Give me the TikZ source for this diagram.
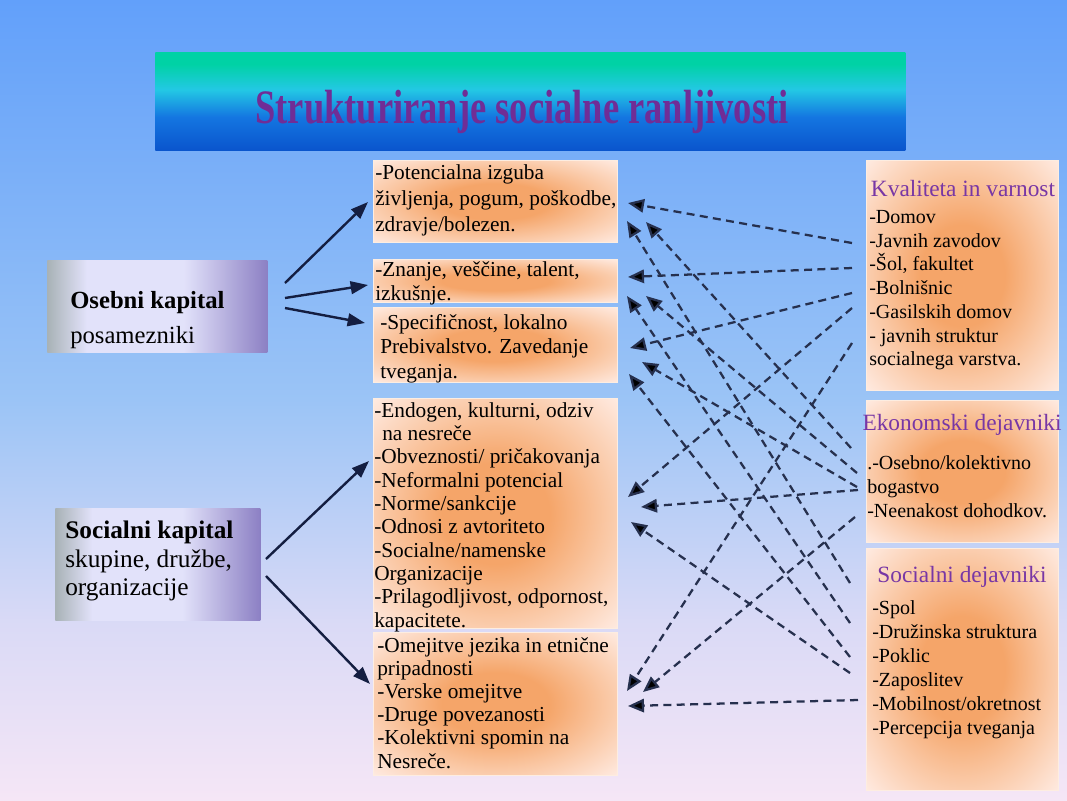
\documentclass[tikz,border=0pt]{standalone}
\usepackage{fontspec}
\setmainfont{Liberation Serif}
\usepackage{xcolor}
\usepackage{tikz}
\usetikzlibrary{arrows.meta}

\definecolor{bgtop}{RGB}{98,160,250}
\definecolor{bgmid}{RGB}{155,196,246}
\definecolor{bglow}{RGB}{218,218,246}
\definecolor{bgbot}{RGB}{245,230,246}
\definecolor{bannertop}{RGB}{0,210,165}
\definecolor{bannercyan}{RGB}{35,200,228}
\definecolor{bannerblue}{RGB}{20,118,225}
\definecolor{bannerbot}{RGB}{10,85,205}
\definecolor{titlepurple}{RGB}{112,45,150}
\definecolor{headpurple}{RGB}{120,55,165}
\definecolor{peach}{RGB}{245,165,105}
\definecolor{midpeach}{RGB}{250,200,165}
\definecolor{palepeach}{RGB}{255,236,228}
\definecolor{lavgrey}{RGB}{168,178,182}
\definecolor{lavlight}{RGB}{226,226,250}
\definecolor{lavdark}{RGB}{140,128,196}
\definecolor{arrnavy}{RGB}{20,30,65}
\definecolor{dashslate}{RGB}{38,48,78}

% tikz maps the path onto 25bp..75bp of these shadings
\pgfdeclareverticalshading{pagebg}{100bp}{color(0bp)=(bgbot); color(25bp)=(bgbot); color(36bp)=(bglow); color(50bp)=(bgmid); color(75bp)=(bgtop); color(100bp)=(bgtop)}
\pgfdeclareverticalshading{bannershade}{100bp}{color(0bp)=(bannerbot); color(25bp)=(bannerbot); color(42bp)=(bannerblue); color(56bp)=(bannercyan); color(69bp)=(bannertop); color(100bp)=(bannertop)}
\pgfdeclareradialshading{peachglow}{\pgfpoint{0bp}{0bp}}{color(0bp)=(peach); color(11bp)=(peach); color(23bp)=(midpeach); color(36bp)=(palepeach); color(50bp)=(palepeach)}
\pgfdeclarehorizontalshading{lavshade}{100bp}{color(0bp)=(lavgrey); color(25bp)=(lavgrey); color(34bp)=(lavlight); color(56bp)=(lavlight); color(75bp)=(lavdark); color(100bp)=(lavdark)}

\tikzset{
  midbox/.style={shading=peachglow, draw=white!80!peach, line width=0.8pt, anchor=north west, minimum width=183pt, inner sep=0pt},
  sidebox/.style={shading=peachglow, draw=white!80!peach, line width=0.8pt, anchor=north west, minimum width=144pt, inner sep=0pt},
  capbox/.style={shading=lavshade, anchor=north west, inner sep=0pt},
  midtext/.style={anchor=north west, inner sep=0pt, align=left, text=black},
  sidehead/.style={inner sep=0pt, text=headpurple, font=\fontsize{17.5}{20}\selectfont},
  solidarr/.style={draw=arrnavy, line width=1.8pt, -{Triangle[length=13pt,width=9.5pt]}},
  dasharr/.style={draw=dashslate, line width=1.7pt, dash pattern=on 6pt off 4pt, -{Triangle[length=12pt,width=10pt,fill=black]}}
}

\begin{document}
\begin{tikzpicture}[x=0.75pt,y=0.75pt,yscale=-1,xscale=1]
%Background
\path[shading=pagebg] (0,0) rectangle (1067,800);

%Title banner
\node[shading=bannershade, anchor=north west, minimum width=562.5pt, minimum height=73.5pt, inner sep=0pt] (banner) at (155,52) {};
\node[text=titlepurple, inner sep=0pt] (title) at (522,112) {\scalebox{0.76}[1]{\fontsize{36}{40}\selectfont\bfseries Strukturiranje socialne ranljivosti}};

%Left boxes
\node[capbox, minimum width=165pt, minimum height=69pt] (ok) at (47,260) {};
\node[midtext, font=\fontsize{18.5}{26}\selectfont] (okt) at (70,291) {\textbf{Osebni kapital}\\posamezniki};
\node[capbox, minimum width=153.75pt, minimum height=84pt] (sk) at (55,508) {};
\node[midtext, font=\fontsize{19}{21.4}\selectfont] (skt) at (65,521) {\textbf{Socialni kapital}\\skupine, družbe,\\organizacije};

%Middle boxes
\node[midbox, minimum height=61.5pt] (m1) at (373,160) {};
\node[midbox, minimum height=32.25pt] (m2) at (373,259) {};
\node[midbox, minimum height=56.25pt] (m3) at (373,307) {};
\node[midbox, minimum height=172.5pt] (m4) at (373,398) {};
\node[midbox, minimum height=107.25pt] (m5) at (373,632) {};
% Text Node
\node[midtext, font=\fontsize{16}{19.5}\selectfont] (m1t) at (375,164) {-Potencialna izguba\\življenja, pogum, poškodbe,\\zdravje/bolezen.};
% Text Node
\node[midtext, font=\fontsize{16}{18}\selectfont] (m2t) at (375,261) {-Znanje, veščine, talent,\\izkušnje.};
% Text Node
\node[midtext, font=\fontsize{16}{18.4}\selectfont] (m3t) at (380,314) {-Specifičnost, lokalno\\Prebivalstvo. Zavedanje\\tveganja.};
% Text Node
\node[midtext, font=\fontsize{16}{17.5}\selectfont] (m4t) at (374,402) {-Endogen, kulturni, odziv\\\hspace*{6pt}na nesreče\\-Obveznosti/ pričakovanja\\-Neformalni potencial\\-Norme/sankcije\\-Odnosi z avtoriteto\\-Socialne/namenske\\Organizacije\\-Prilagodljivost, odpornost,\\kapacitete.};
% Text Node
\node[midtext, font=\fontsize{16}{17.4}\selectfont] (m5t) at (377,637) {-Omejitve jezika in etnične\\pripadnosti\\-Verske omejitve\\-Druge povezanosti\\-Kolektivni spomin na\\Nesreče.};

%Right boxes
\node[sidebox, minimum height=172.5pt] (kv) at (866,160) {};
\node[sidebox, minimum height=106.5pt] (ek) at (866,400) {};
\node[sidebox, minimum height=181.5pt] (sd) at (866,548) {};
% Text Node
\node[sidehead] (kvh) at (963,189) {Kvaliteta in varnost};
\node[midtext, font=\fontsize{15}{17.8}\selectfont] (kvt) at (869,210) {-Domov\\-Javnih zavodov\\-Šol, fakultet\\-Bolnišnic\\-Gasilskih domov\\- javnih struktur\\socialnega varstva.};
% Text Node
\node[sidehead] (ekh) at (962,425) {Ekonomski dejavniki};
\node[midtext, font=\fontsize{15}{18.2}\selectfont] (ekt) at (867,455) {.-Osebno/kolektivno\\bogastvo\\-Neenakost dohodkov.};
% Text Node
\node[sidehead] (sdh) at (962,577) {Socialni dejavniki};
\node[midtext, font=\fontsize{15}{18}\selectfont] (sdt) at (872,600) {-Spol\\-Družinska struktura\\-Poklic\\-Zaposlitev\\-Mobilnost/okretnost\\-Percepcija tveganja};

%Arrow ends
\coordinate (ok1) at (285,283);
\coordinate (ok2) at (285,298);
\coordinate (ok3) at (285,308);
\coordinate (sk1) at (266,559);
\coordinate (sk2) at (266,576);
\coordinate (m1s) at (368,202);
\coordinate (m2s) at (368,285);
\coordinate (m3s) at (365,323);
\coordinate (m4s) at (369,461);
\coordinate (m5s) at (370,684);
\coordinate (kv1) at (852,243);
\coordinate (kv2) at (852,268);
\coordinate (kv3) at (852,293);
\coordinate (kv4) at (852,308);
\coordinate (kv5) at (852,343);
\coordinate (ek1) at (851,448);
\coordinate (ek2) at (857,473);
\coordinate (ek3) at (857,487);
\coordinate (ek4) at (858,490);
\coordinate (ek5) at (855,517);
\coordinate (sd1) at (850,583);
\coordinate (sd2) at (850,623);
\coordinate (sd3) at (850,657);
\coordinate (sd4) at (850,673);
\coordinate (sd5) at (858,700);
\coordinate (m1a) at (628,203);
\coordinate (m1b) at (627,221);
\coordinate (m1c) at (646,222);
\coordinate (m2a) at (628,277);
\coordinate (m2b) at (627,296);
\coordinate (m2c) at (646,296);
\coordinate (m3a) at (630,348);
\coordinate (m3b) at (642,362);
\coordinate (m3c) at (629,374);
\coordinate (m4a) at (628,497);
\coordinate (m4b) at (641,507);
\coordinate (m4c) at (631,522);
\coordinate (m5a) at (627,691);
\coordinate (m5b) at (643,692);
\coordinate (m5c) at (628,706);

%Solid arrows
\draw[solidarr] (ok1) -- (m1s);
\draw[solidarr] (ok2) -- (m2s);
\draw[solidarr] (ok3) -- (m3s);
\draw[solidarr] (sk1) -- (m4s);
\draw[solidarr] (sk2) -- (m5s);

%Dashed arrows
\draw[dasharr] (kv1) -- (m1a);
\draw[dasharr] (sd1) -- (m1b);
\draw[dasharr] (ek1) -- (m1c);
\draw[dasharr] (kv2) -- (m2a);
\draw[dasharr] (sd2) -- (m2b);
\draw[dasharr] (ek2) -- (m2c);
\draw[dasharr] (kv3) -- (m3a);
\draw[dasharr] (ek3) -- (m3b);
\draw[dasharr] (sd3) -- (m3c);
\draw[dasharr] (kv4) -- (m4a);
\draw[dasharr] (ek4) -- (m4b);
\draw[dasharr] (sd4) -- (m4c);
\draw[dasharr] (kv5) -- (m5a);
\draw[dasharr] (ek5) -- (m5b);
\draw[dasharr] (sd5) -- (m5c);
\end{tikzpicture}
\end{document}
